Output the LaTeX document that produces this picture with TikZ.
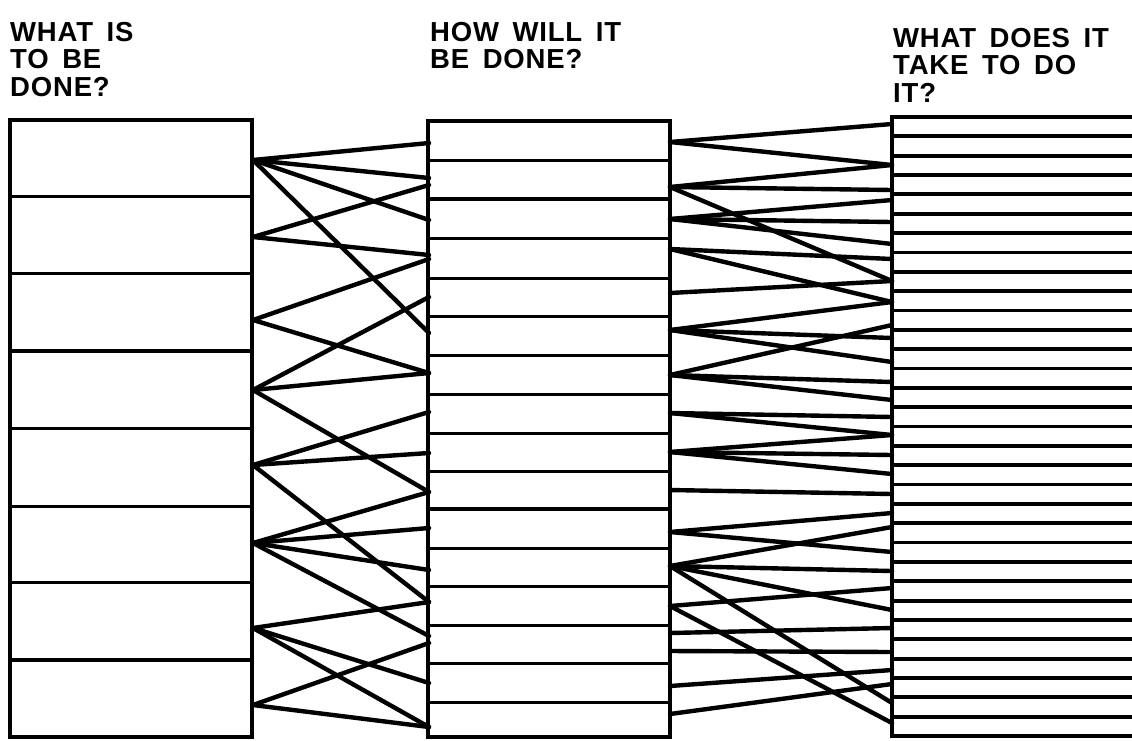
\documentclass[tikz,border=0pt]{standalone}
\usepackage{fontspec}
\setmainfont{Liberation Sans}[LetterSpace=3,WordSpace=1.6]
\begin{document}
\begin{tikzpicture}[x=1pt,y=-1pt,
  link/.style={line width=4.4pt, line cap=round},
  frame/.style={line width=3.6pt},
  div/.style={line width=3pt},
  heavydiv/.style={line width=4.6pt},
  rdiv/.style={line width=3.8pt},
  hdr/.style={anchor=base west, inner sep=0pt, font=\fontsize{27.5}{27.5}\selectfont\bfseries}]
\useasboundingbox (0,0) rectangle (1132,740);
\fill[white] (0,0) rectangle (1132,740);

% headers
\node[hdr] (h1a) at (10,41) {WHAT IS};
\node[hdr] (h1b) at (10,68.5) {TO BE};
\node[hdr] (h1c) at (10,96) {DONE?};
\node[hdr] (h2a) at (430,41) {HOW WILL IT};
\node[hdr] (h2b) at (430,68.5) {BE DONE?};
\node[hdr] (h3a) at (893,47) {WHAT DOES IT};
\node[hdr] (h3b) at (893,74.5) {TAKE TO DO};
\node[hdr] (h3c) at (893,102) {IT?};

% left box
\draw[frame] (10,120) rectangle (252,737);
\foreach \y in {196,273,428,506,582} \draw[div] (10,\y) -- (252,\y);
\foreach \y in {351,660} \draw[heavydiv] (10,\y) -- (252,\y);

% middle box
\draw[frame] (428,121) rectangle (670,737);
\foreach \y in {160,238,278,316,355,394,433,471,548,586,625,663,702} \draw[div] (428,\y) -- (670,\y);
\foreach \y in {199,509} \draw[heavydiv] (428,\y) -- (670,\y);

% right box
\draw[frame] (1140,117) -- (892,117) -- (892,736) -- (1140,736);
\foreach \k in {1,...,31} {
  \pgfmathsetmacro{\yy}{117+\k*19.344}
  \draw[rdiv] (892,\yy) -- (1140,\yy);
}

% connection points
\foreach \i/\y in {1/160,2/237,3/320,4/390,5/465,6/543,7/628,8/705}
  \coordinate (L\i) at (253,\y);
\foreach \y in {143,178,185,220,255,259,297,333,373,412,453,492,528,570,602,636,643,683,727}
  \coordinate (ml\y) at (429,\y);
\foreach \y in {142,187,219,249,293,330,375,413,452,490,532,566,606,633,651,686,714}
  \coordinate (mr\y) at (670,\y);
\foreach \y in {124,165,190,200,222,244,259,281,302,325,338,362,382,400,417,435,455,474,494,513,527,552,571,588,610,628,652,670,684,703,723}
  \coordinate (rl\y) at (892,\y);

% left -> middle
\foreach \a/\b in {1/143,1/178,1/220,1/333,2/185,2/255,3/259,3/373,4/297,4/373,4/492,
  5/412,5/453,5/602,6/492,6/528,6/570,6/636,7/602,7/683,7/727,8/643,8/727}
  \draw[link] (L\a) -- (ml\b);

% middle -> right
\foreach \a/\b in {142/124,142/165,187/165,187/190,187/281,219/200,219/222,219/244,
  249/259,249/302,293/281,330/302,330/338,330/362,375/325,375/382,375/400,
  413/417,413/435,452/435,452/455,452/474,490/494,532/513,532/552,
  566/527,566/571,566/610,566/703,606/588,606/723,633/628,651/652,686/670,714/684}
  \draw[link] (mr\a) -- (rl\b);
\end{tikzpicture}
\end{document}
